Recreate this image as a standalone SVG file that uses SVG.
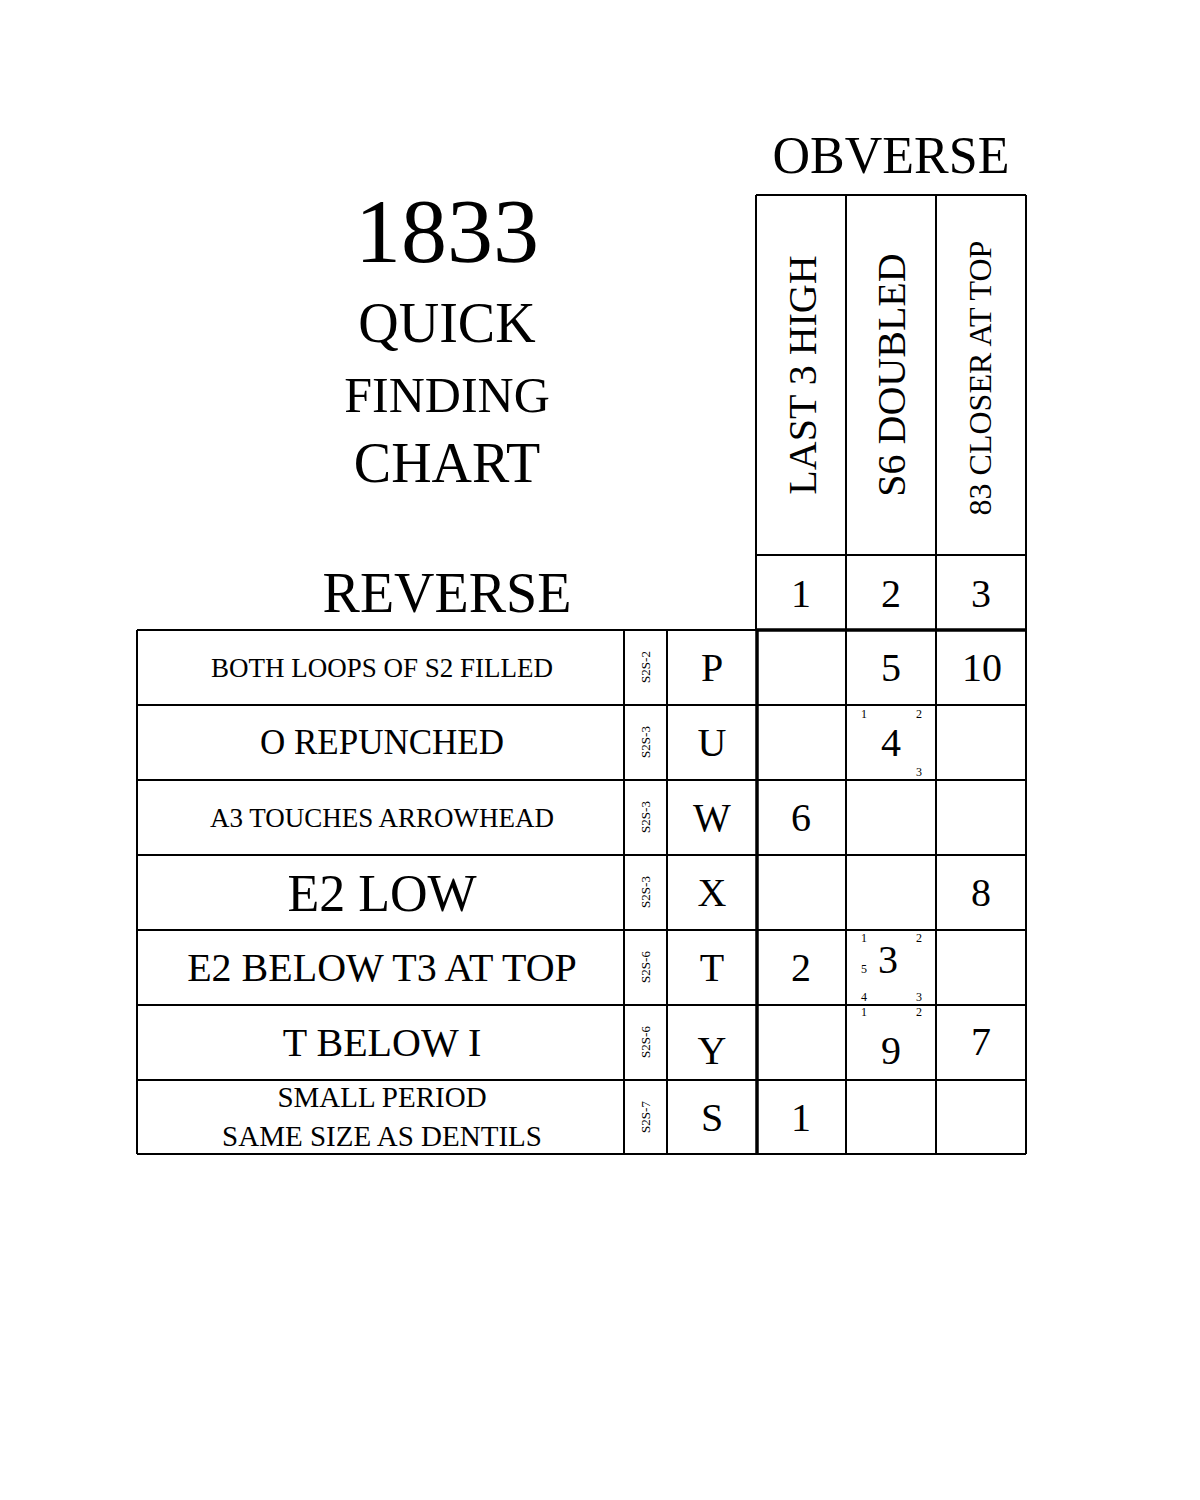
<svg xmlns="http://www.w3.org/2000/svg" width="1200" height="1500" viewBox="0 0 1200 1500">
<style>
text{font-family:"Liberation Serif","Times New Roman",serif;fill:#000;text-anchor:middle}
.g line{stroke:#000;stroke-width:2}
.b{font-size:40px}
.s{font-size:12px}
.c{font-size:13px}
</style>
<rect width="1200" height="1500" fill="#fff"/>
<g id="title">
<text x="447" y="262" font-size="92">1833</text>
<text x="447" y="342" font-size="56">QUICK</text>
<text x="447" y="412" font-size="50">FINDING</text>
<text x="447" y="482" font-size="56">CHART</text>
<text x="447" y="612" font-size="56">REVERSE</text>
<text x="891" y="173" font-size="52">OBVERSE</text>
</g>
<g id="grid" class="g">
<line x1="756" y1="195" x2="1026" y2="195"/>
<line x1="756" y1="555" x2="1026" y2="555"/>
<line x1="137" y1="630" x2="756" y2="630"/>
<line x1="756" y1="630" x2="1026" y2="630" style="stroke-width:3.5"/>
<line x1="137" y1="705" x2="1026" y2="705"/>
<line x1="137" y1="780" x2="1026" y2="780"/>
<line x1="137" y1="855" x2="1026" y2="855"/>
<line x1="137" y1="930" x2="1026" y2="930"/>
<line x1="137" y1="1005" x2="1026" y2="1005"/>
<line x1="137" y1="1080" x2="1026" y2="1080"/>
<line x1="137" y1="1154" x2="1026" y2="1154"/>
<line x1="137" y1="630" x2="137" y2="1154"/>
<line x1="624" y1="630" x2="624" y2="1154"/>
<line x1="667" y1="630" x2="667" y2="1154"/>
<line x1="756" y1="195" x2="756" y2="630"/>
<line x1="757" y1="630" x2="757" y2="1154" style="stroke-width:3.5"/>
<line x1="846" y1="195" x2="846" y2="1154"/>
<line x1="936" y1="195" x2="936" y2="1154"/>
<line x1="1026" y1="195" x2="1026" y2="1154"/>
</g>
<g id="headers">
<text transform="translate(816,375) rotate(-90)" font-size="40">LAST 3 HIGH</text>
<text transform="translate(905,375) rotate(-90)" font-size="40">S6 DOUBLED</text>
<text transform="translate(991,378) rotate(-90)" font-size="32">83 CLOSER AT TOP</text>
<text x="801" y="607" class="b">1</text>
<text x="891" y="607" class="b">2</text>
<text x="981" y="607" class="b">3</text>
</g>
<g id="rows">
<text x="382" y="677" font-size="27">BOTH LOOPS OF S2 FILLED</text>
<text x="382" y="754" font-size="35">O REPUNCHED</text>
<text x="382" y="827" font-size="27">A3 TOUCHES ARROWHEAD</text>
<text x="382" y="911" font-size="52">E2 LOW</text>
<text x="382" y="981" font-size="40">E2 BELOW T3 AT TOP</text>
<text x="382" y="1056" font-size="40">T BELOW I</text>
<text x="382" y="1107" font-size="29">SMALL PERIOD</text>
<text x="382" y="1146" font-size="29">SAME SIZE AS DENTILS</text>
<text transform="translate(650,667) rotate(-90)" class="c">S2S-2</text>
<text transform="translate(650,742) rotate(-90)" class="c">S2S-3</text>
<text transform="translate(650,817) rotate(-90)" class="c">S2S-3</text>
<text transform="translate(650,892) rotate(-90)" class="c">S2S-3</text>
<text transform="translate(650,967) rotate(-90)" class="c">S2S-6</text>
<text transform="translate(650,1042) rotate(-90)" class="c">S2S-6</text>
<text transform="translate(650,1117) rotate(-90)" class="c">S2S-7</text>
<text x="712" y="681" class="b">P</text>
<text x="712" y="756" class="b">U</text>
<text x="712" y="831" class="b">W</text>
<text x="712" y="906" class="b">X</text>
<text x="712" y="981" class="b">T</text>
<text x="712" y="1064" class="b">Y</text>
<text x="712" y="1131" class="b">S</text>
</g>
<g id="cells">
<text x="891" y="681" class="b">5</text>
<text x="982" y="681" class="b">10</text>
<text x="891" y="756" class="b">4</text>
<text x="864" y="718" class="s">1</text>
<text x="919" y="718" class="s">2</text>
<text x="919" y="776" class="s">3</text>
<text x="801" y="831" class="b">6</text>
<text x="981" y="906" class="b">8</text>
<text x="801" y="981" class="b">2</text>
<text x="888" y="973" class="b">3</text>
<text x="864" y="942" class="s">1</text>
<text x="919" y="942" class="s">2</text>
<text x="864" y="973" class="s">5</text>
<text x="864" y="1001" class="s">4</text>
<text x="919" y="1001" class="s">3</text>
<text x="891" y="1064" class="b">9</text>
<text x="864" y="1016" class="s">1</text>
<text x="919" y="1016" class="s">2</text>
<text x="981" y="1055" class="b">7</text>
<text x="801" y="1131" class="b">1</text>
</g>
</svg>
